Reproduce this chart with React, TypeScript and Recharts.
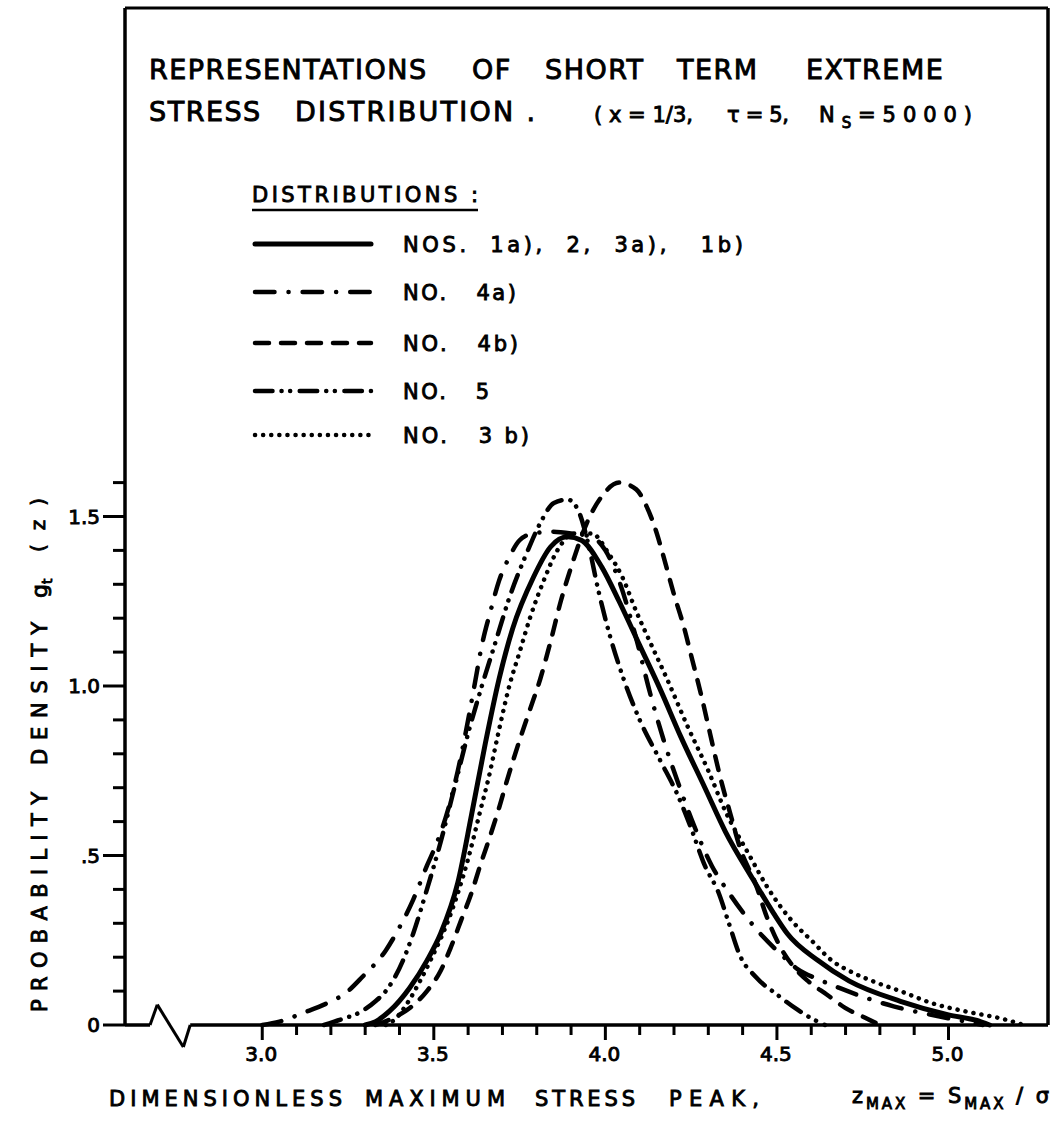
import React from 'react';
import { LineChart, Line, XAxis, YAxis, ReferenceLine } from 'recharts';

const FONT = '"DejaVu Sans", "Liberation Sans", sans-serif';

// ---- data (z = S_MAX / sigma, g = probability density) ----
const seriesSolid: [number, number][] = [
  [3.30, 0], [3.33, 0.01], [3.37, 0.04], [3.43, 0.11], [3.48, 0.19], [3.52, 0.27], [3.57, 0.42],
  [3.61, 0.62], [3.65, 0.83], [3.69, 1.02], [3.73, 1.17], [3.79, 1.32], [3.84, 1.41], [3.89, 1.44],
  [3.93, 1.43], [3.99, 1.35], [4.04, 1.25], [4.10, 1.12], [4.16, 0.99], [4.22, 0.85], [4.29, 0.70],
  [4.35, 0.57], [4.43, 0.43], [4.49, 0.33], [4.53, 0.27], [4.62, 0.19], [4.71, 0.13], [4.86, 0.07],
  [5.00, 0.03], [5.08, 0.014], [5.12, 0],
];
const series4a: [number, number][] = [
  [3.00, 0], [3.05, 0.01], [3.13, 0.04], [3.18, 0.06], [3.25, 0.10], [3.29, 0.14], [3.36, 0.22],
  [3.39, 0.27], [3.44, 0.37], [3.48, 0.47], [3.51, 0.54], [3.54, 0.63], [3.57, 0.75], [3.60, 0.90],
  [3.62, 1.01], [3.64, 1.12], [3.665, 1.22], [3.69, 1.31], [3.72, 1.38], [3.75, 1.43], [3.79, 1.45],
  [3.84, 1.455], [3.90, 1.45], [3.96, 1.44], [4.00, 1.40], [4.04, 1.31], [4.09, 1.14], [4.13, 0.98],
  [4.17, 0.84], [4.21, 0.72], [4.25, 0.61], [4.31, 0.47], [4.36, 0.39], [4.41, 0.32], [4.46, 0.26],
  [4.51, 0.21], [4.56, 0.165], [4.62, 0.135], [4.68, 0.11], [4.76, 0.08], [4.84, 0.055], [4.95, 0.03],
  [5.05, 0.01], [5.10, 0],
];
const series4b: [number, number][] = [
  [3.33, 0], [3.38, 0.02], [3.43, 0.05], [3.48, 0.10], [3.52, 0.16], [3.55, 0.23], [3.58, 0.31],
  [3.61, 0.39], [3.635, 0.47], [3.665, 0.56], [3.69, 0.64], [3.71, 0.71], [3.75, 0.84], [3.78, 0.93],
  [3.81, 1.02], [3.84, 1.13], [3.87, 1.25], [3.90, 1.35], [3.95, 1.49], [3.99, 1.56], [4.04, 1.60],
  [4.09, 1.58], [4.12, 1.53], [4.15, 1.45], [4.17, 1.38], [4.20, 1.27], [4.23, 1.17], [4.25, 1.09],
  [4.28, 0.97], [4.305, 0.86], [4.335, 0.73], [4.365, 0.62], [4.39, 0.53], [4.44, 0.41], [4.47, 0.32],
  [4.51, 0.23], [4.55, 0.17], [4.59, 0.13], [4.645, 0.09], [4.70, 0.05], [4.76, 0.02], [4.80, 0],
];
const series5: [number, number][] = [
  [3.18, 0], [3.21, 0.01], [3.24, 0.02], [3.28, 0.035], [3.33, 0.07], [3.36, 0.10], [3.41, 0.19],
  [3.44, 0.27], [3.48, 0.40], [3.52, 0.54], [3.56, 0.70], [3.60, 0.86], [3.64, 1.00], [3.68, 1.13],
  [3.72, 1.26], [3.77, 1.39], [3.81, 1.48], [3.85, 1.54], [3.89, 1.55], [3.92, 1.52], [3.95, 1.42],
  [3.98, 1.28], [4.01, 1.16], [4.05, 1.03], [4.10, 0.90], [4.16, 0.78], [4.21, 0.68], [4.25, 0.58],
  [4.29, 0.47], [4.33, 0.39], [4.36, 0.30], [4.39, 0.21], [4.44, 0.14], [4.50, 0.09], [4.56, 0.045],
  [4.60, 0.02], [4.64, 0],
];
const series3b: [number, number][] = [
  [3.36, 0], [3.39, 0.02], [3.42, 0.06], [3.46, 0.13], [3.49, 0.19], [3.55, 0.33], [3.60, 0.49],
  [3.635, 0.63], [3.66, 0.73], [3.69, 0.87], [3.72, 1.00], [3.75, 1.10], [3.78, 1.20], [3.82, 1.31],
  [3.86, 1.40], [3.91, 1.45], [3.96, 1.45], [4.01, 1.39], [4.05, 1.32], [4.09, 1.22], [4.13, 1.13],
  [4.18, 1.02], [4.24, 0.88], [4.30, 0.75], [4.35, 0.63], [4.42, 0.50], [4.47, 0.41], [4.51, 0.35],
  [4.55, 0.30], [4.60, 0.25], [4.66, 0.19], [4.72, 0.155], [4.79, 0.125], [4.86, 0.10], [4.95, 0.065],
  [5.05, 0.04], [5.15, 0.02], [5.22, 0],
];

const xTicks = [3.0, 3.1, 3.2, 3.3, 3.4, 3.5, 3.6, 3.7, 3.8, 3.9, 4.0, 4.1, 4.2, 4.3, 4.4, 4.5, 4.6, 4.7, 4.8, 4.9, 5.0];
const xTickLabels: Record<string, string> = { '3': '3.0', '3.5': '3.5', '4': '4.0', '4.5': '4.5', '5': '5.0' };
const yTicks = [0, 0.1, 0.2, 0.3, 0.4, 0.5, 0.6, 0.7, 0.8, 0.9, 1.0, 1.1, 1.2, 1.3, 1.4, 1.5, 1.6];
const yTickLabels: Record<string, string> = { '0': '0', '0.5': '.5', '1': '1.0', '1.5': '1.5' };

const legendItems = [
  { label: 'NOS.  1a),  2,  3a),   1b)', dash: undefined as string | undefined, len: 340 },
  { label: 'NO.   4a)', dash: '19.5 14 0.1 14', len: 113 },
  { label: 'NO.   4b)', dash: '14 12', len: 115 },
  { label: 'NO.   5', dash: '17.5 9 0.1 8.5 0.1 9.5', len: 86 },
  { label: 'NO.   3 b)', dash: '0.1 8', len: 126 },
];

const toPts = (s: [number, number][]) => s.map(([z, g]) => ({ z, g }));

const txt = { fontFamily: FONT, fill: '#000', stroke: '#000', strokeWidth: 0.9 };

const XTick = (props: any) => {
  const { x, y, payload } = props;
  const v = payload.value as number;
  const label = xTickLabels[String(v)];
  const major = label !== undefined;
  return (
    <g>
      <line x1={x} x2={x} y1={y} y2={y + (major ? 15 : 10)} stroke="#000" strokeWidth={3} />
      {major && (
        <text x={x - 1} y={y + 36} textAnchor="middle" fontSize={20} {...txt}>
          {label}
        </text>
      )}
    </g>
  );
};

const YTick = (props: any) => {
  const { x, y, payload } = props;
  const v = payload.value as number;
  const label = yTickLabels[String(v)];
  const major = label !== undefined;
  return (
    <g>
      <line x1={x - (major ? 22 : 12)} x2={x} y1={y} y2={y} stroke="#000" strokeWidth={3} />
      {major && (
        <text x={x - 25} y={y + 7} textAnchor="end" fontSize={20} {...txt}>
          {label}
        </text>
      )}
    </g>
  );
};

const seg = (a: [number, number], b: [number, number]) => [{ x: a[0], y: a[1] }, { x: b[0], y: b[1] }];

// word with natural width (uniform letter spacing)
const W = ({ x, y, size, ls, children }: any) => (
  <text x={x} y={y} fontSize={size} letterSpacing={ls} {...txt} style={{ whiteSpace: 'pre' }}>
    {children}
  </text>
);
// word fitted to a measured length
const Word = ({ x, y, len, size, children }: any) => (
  <text x={x} y={y} textLength={len} lengthAdjust="spacing" fontSize={size} {...txt} style={{ whiteSpace: 'pre' }}>
    {children}
  </text>
);

export default function App() {
  const lineCommon = {
    type: 'monotone' as const,
    dataKey: 'g',
    stroke: '#000',
    strokeWidth: 4.5,
    dot: false,
    isAnimationActive: false,
    strokeLinecap: 'round' as const,
  };
  return (
    <div style={{ position: 'absolute', left: 0, top: 0, width: 1053, height: 1128, background: '#fff' }}>
      <LineChart width={1053} height={1128} margin={{ top: 8, right: 5, bottom: 0, left: 0 }}>
        <XAxis
          type="number"
          dataKey="z"
          domain={[2.6, 5.29]}
          ticks={xTicks}
          interval={0}
          axisLine={false}
          tickLine={false}
          tickSize={0}
          tickMargin={0}
          height={103}
          tick={(p: any) => <XTick {...p} />}
        />
        <YAxis
          type="number"
          dataKey="g"
          domain={[0, 3]}
          ticks={yTicks}
          interval={0}
          axisLine={{ stroke: '#000', strokeWidth: 3.5 }}
          tickLine={false}
          tickSize={0}
          tickMargin={0}
          width={125}
          tick={(p: any) => <YTick {...p} />}
        />
        {/* frame and broken baseline */}
        <ReferenceLine segment={seg([2.6, 3], [5.29, 3])} stroke="#000" strokeWidth={3} ifOverflow="visible" />
        <ReferenceLine segment={seg([5.29, 0], [5.29, 3])} stroke="#000" strokeWidth={3.5} ifOverflow="visible" />
        <ReferenceLine segment={seg([2.6, 0], [2.673, 0])} stroke="#000" strokeWidth={3.5} ifOverflow="visible" />
        <ReferenceLine segment={seg([2.673, 0], [2.694, 0.06])} stroke="#000" strokeWidth={3} ifOverflow="visible" />
        <ReferenceLine segment={seg([2.694, 0.06], [2.77, -0.065])} stroke="#000" strokeWidth={3} ifOverflow="visible" />
        <ReferenceLine segment={seg([2.77, -0.065], [2.79, 0])} stroke="#000" strokeWidth={3} ifOverflow="visible" />
        <ReferenceLine segment={seg([2.79, 0], [5.29, 0])} stroke="#000" strokeWidth={3.5} ifOverflow="visible" />

        <Line {...lineCommon} data={toPts(series4a)} strokeDasharray="19.5 14 0.1 14" name="NO. 4a)" />
        <Line {...lineCommon} data={toPts(series5)} strokeDasharray="17.5 9 0.1 8.5 0.1 9.5" name="NO. 5" />
        <Line {...lineCommon} data={toPts(series4b)} strokeDasharray="14 12" name="NO. 4b)" />
        <Line {...lineCommon} data={toPts(series3b)} strokeDasharray="0.1 8" name="NO. 3 b)" />
        <Line {...lineCommon} data={toPts(seriesSolid)} strokeWidth={5} name="NOS. 1a), 2, 3a), 1b)" />
      </LineChart>

      <svg width={1053} height={1128} style={{ position: 'absolute', left: 0, top: 0, pointerEvents: 'none' }}>
        {/* title */}
        <W x={149} y={79} size={27} ls={1.5}>REPRESENTATIONS</W>
        <W x={472} y={79} size={27} ls={1.5}>OF</W>
        <W x={545} y={79} size={27} ls={1.5}>SHORT</W>
        <W x={677} y={79} size={27} ls={1.5}>TERM</W>
        <W x={806} y={79} size={27} ls={1.5}>EXTREME</W>
        <W x={149} y={121} size={27} ls={1.5}>STRESS</W>
        <Word x={295} y={121} len={240} size={27}>DISTRIBUTION .</Word>
        <Word x={594} y={122} len={99} size={21}>( x = 1/3,</Word>
        <Word x={727} y={122} len={62} size={21}>τ = 5,</Word>
        <text x={819} y={122} textLength={153} lengthAdjust="spacing" fontSize={21} {...txt}>
          N<tspan dy={6} fontSize={15}>S</tspan><tspan dy={-6}>=5000)</tspan>
        </text>

        {/* legend */}
        <Word x={252} y={202} len={226} size={21}>DISTRIBUTIONS :</Word>
        <line x1={252} x2={478} y1={210} y2={210} stroke="#000" strokeWidth={2.5} />
        {legendItems.map((it, i) => {
          const cy = [244, 292, 343, 391, 435][i];
          return (
            <g key={i}>
              <line x1={255} x2={371} y1={cy} y2={cy} stroke="#000" strokeWidth={it.dash ? 4.5 : 5}
                strokeDasharray={it.dash} strokeLinecap="round" />
              <text x={403} y={cy + 8} textLength={it.len} lengthAdjust="spacing" fontSize={21} {...txt} style={{ whiteSpace: 'pre' }}>
                {it.label}
              </text>
            </g>
          );
        })}

        {/* y-axis title */}
        <g transform="translate(47, 0) rotate(-90)">
          <Word x={-1012} y={0} len={220} size={21}>PROBABILITY</Word>
          <Word x={-765} y={0} len={143} size={21}>DENSITY</Word>
          <text x={-598} y={0} fontSize={22} {...txt}>
            g<tspan dy={5} fontSize={14}>t</tspan>
          </text>
          <Word x={-552} y={-2} len={54} size={20}>(z)</Word>
        </g>

        {/* x-axis title */}
        <Word x={109} y={1106} len={233} size={21}>DIMENSIONLESS</Word>
        <Word x={365} y={1106} len={140} size={21}>MAXIMUM</Word>
        <Word x={535} y={1106} len={100} size={21}>STRESS</Word>
        <Word x={669} y={1106} len={90} size={21}>PEAK,</Word>
        <text x={852} y={1103} textLength={197} lengthAdjust="spacing" fontSize={21} {...txt}>
          z<tspan dy={6} fontSize={15}>MAX</tspan><tspan dy={-6}> = S</tspan><tspan dy={6} fontSize={15}>MAX</tspan><tspan dy={-6}> / σ</tspan>
        </text>
      </svg>
    </div>
  );
}
